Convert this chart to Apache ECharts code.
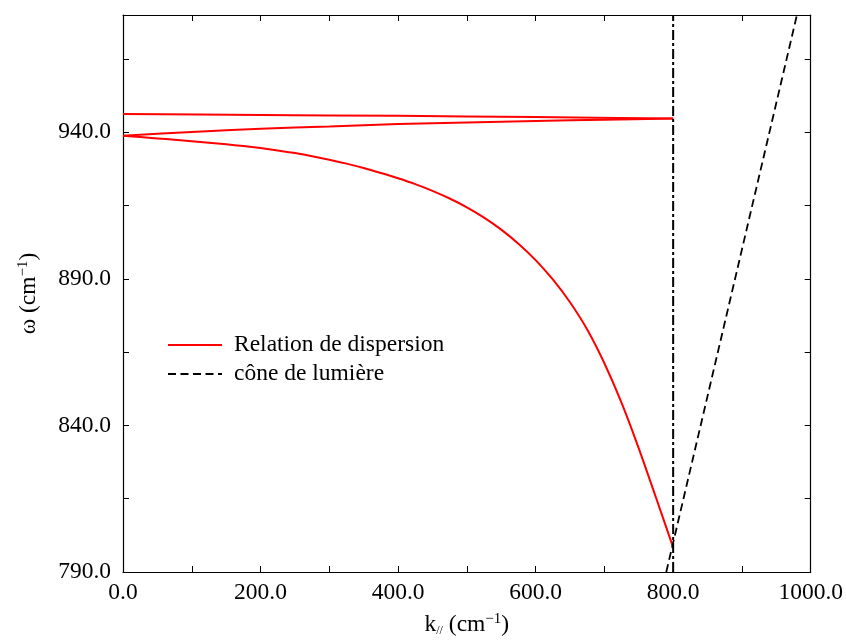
<!DOCTYPE html>
<html>
<head>
<meta charset="utf-8">
<script src="https://cdn.jsdelivr.net/npm/echarts@6/dist/echarts.min.js"></script>
<style>
html,body{margin:0;padding:0;background:#fff;}
#chart{width:846px;height:642px;}
</style>
</head>
<body>
<div id="chart"></div>
<script>
// Lower dispersion branch
const lowerK = [0, 25, 50, 75, 100, 125, 150, 175, 200, 225, 250, 275, 300, 325, 350, 375, 400, 425, 450, 475, 500, 525, 550, 575, 600, 625, 650, 675, 700, 725, 750, 775, 800];
const lowerW = [938.8, 938.35, 937.9, 937.45, 936.95, 936.45, 935.9, 935.3, 934.6, 933.8, 932.9, 931.85, 930.65, 929.3, 927.8, 926.1, 924.3, 922.3, 920.0, 917.4, 914.4, 910.9, 906.8, 902.0, 896.4, 889.8, 882.0, 872.7, 861.2, 847.7, 832.2, 815.4, 798.4];
// Middle dispersion branch
const middleK = [0, 100, 200, 300, 400, 500, 600, 700, 800];
const middleW = [938.8, 940.1, 941.2, 942.0, 942.8, 943.35, 943.85, 944.3, 944.7];
// Upper dispersion branch
const upperK = [0, 200, 400, 600, 800];
const upperW = [946.2, 945.9, 945.6, 945.2, 944.7];
// Light cone omega = k
const coneK = [790, 980];
const coneW = [790, 980];
// Vertical limit line
const limitK = [800, 800];
const limitW = [790, 980];

const xTicks = {min: 0, max: 1000, step: 100, labelStep: 200};
const yTicks = {min: 790, max: 980, step: 25, labelStep: 50};

const zip = (a, b) => a.map((v, i) => [v, b[i]]);
const FONT = 'Liberation Serif';
const FS = 23.5;
const RED = '#ff0000';

const chart = echarts.init(document.getElementById('chart'));

const xLabelFmt = v => (Math.round(v) % xTicks.labelStep === 0) ? v.toFixed(1) : '';
const yLabelFmt = v => ((Math.round(v) - yTicks.min) % yTicks.labelStep === 0 && v < yTicks.max) ? v.toFixed(1) : '';

const mkLine = () => ({show: true, onZero: false, lineStyle: {color: '#000', width: 1.2}});
const mkTick = () => ({show: true, inside: true, length: 6, lineStyle: {color: '#000', width: 1}});

chart.setOption({
  animation: false,
  backgroundColor: '#fff',
  grid: {left: 123, right: 34, top: 15, bottom: 64, containLabel: false},
  legend: {
    orient: 'vertical',
    left: 167,
    top: 333,
    padding: 0,
    itemWidth: 54,
    itemHeight: 14,
    itemGap: 5,
    itemStyle: {opacity: 0},
    textStyle: {fontFamily: FONT, fontSize: FS, color: '#000', padding: [0, 0, 0, 7]},
    data: ['Relation de dispersion', 'cône de lumière']
  },
  xAxis: [{
    type: 'value', min: xTicks.min, max: xTicks.max, interval: xTicks.step,
    position: 'bottom',
    axisLine: mkLine(), axisTick: mkTick(),
    splitLine: {show: false},
    axisLabel: {formatter: xLabelFmt, fontFamily: FONT, fontSize: FS, color: '#000', margin: 9, showMaxLabel: true},
    name: '{a|k}{sub|//}{a| (cm}{sup|−1}{a|)}',
    nameLocation: 'middle', nameGap: 40,
    nameTextStyle: {
      rich: {
        a: {fontFamily: FONT, fontSize: FS, color: '#000'},
        sub: {fontFamily: FONT, fontSize: 12, color: '#000', verticalAlign: 'bottom', padding: [12, 0, 0, 0]},
        sup: {fontFamily: FONT, fontSize: 15, color: '#000', verticalAlign: 'top', padding: [0, 0, 10, 0]}
      }
    }
  }, {
    type: 'value', min: xTicks.min, max: xTicks.max, interval: xTicks.step,
    position: 'top',
    axisLine: mkLine(), axisTick: mkTick(),
    splitLine: {show: false},
    axisLabel: {show: false}
  }],
  yAxis: [{
    type: 'value', min: yTicks.min, max: yTicks.max, interval: yTicks.step,
    position: 'left',
    axisLine: mkLine(), axisTick: mkTick(),
    splitLine: {show: false},
    axisLabel: {formatter: yLabelFmt, fontFamily: FONT, fontSize: FS, color: '#000', margin: 12},
    name: '{a|ω (cm}{sup|−1}{a|)}',
    nameLocation: 'middle', nameGap: 82, nameRotate: 90,
    nameTextStyle: {
      rich: {
        a: {fontFamily: FONT, fontSize: FS, color: '#000'},
        sup: {fontFamily: FONT, fontSize: 15, color: '#000', verticalAlign: 'top', padding: [0, 0, 10, 0]}
      }
    }
  }, {
    type: 'value', min: yTicks.min, max: yTicks.max, interval: yTicks.step,
    position: 'right',
    axisLine: mkLine(), axisTick: mkTick(),
    splitLine: {show: false},
    axisLabel: {show: false}
  }],
  series: [
    {name: 'Relation de dispersion', type: 'line', data: zip(lowerK, lowerW), smooth: 0.3, showSymbol: false, symbol: 'none',
     lineStyle: {color: RED, width: 2}, itemStyle: {color: RED}},
    {name: 'Relation de dispersion', type: 'line', data: zip(middleK, middleW), smooth: 0.3, showSymbol: false, symbol: 'none',
     lineStyle: {color: RED, width: 2}, itemStyle: {color: RED}},
    {name: 'Relation de dispersion', type: 'line', data: zip(upperK, upperW), smooth: 0.3, showSymbol: false, symbol: 'none',
     lineStyle: {color: RED, width: 2}, itemStyle: {color: RED}},
    {name: 'cône de lumière', type: 'line', data: zip(coneK, coneW), showSymbol: false, symbol: 'none',
     lineStyle: {color: '#000', width: 1.8, type: [8, 4.5]}, itemStyle: {color: '#000'}},
    {name: 'limite', type: 'line', data: zip(limitK, limitW), showSymbol: false, symbol: 'none',
     lineStyle: {color: '#000', width: 2, type: [10, 3, 3, 3]}, itemStyle: {color: '#000'}}
  ]
});
</script>
</body>
</html>
